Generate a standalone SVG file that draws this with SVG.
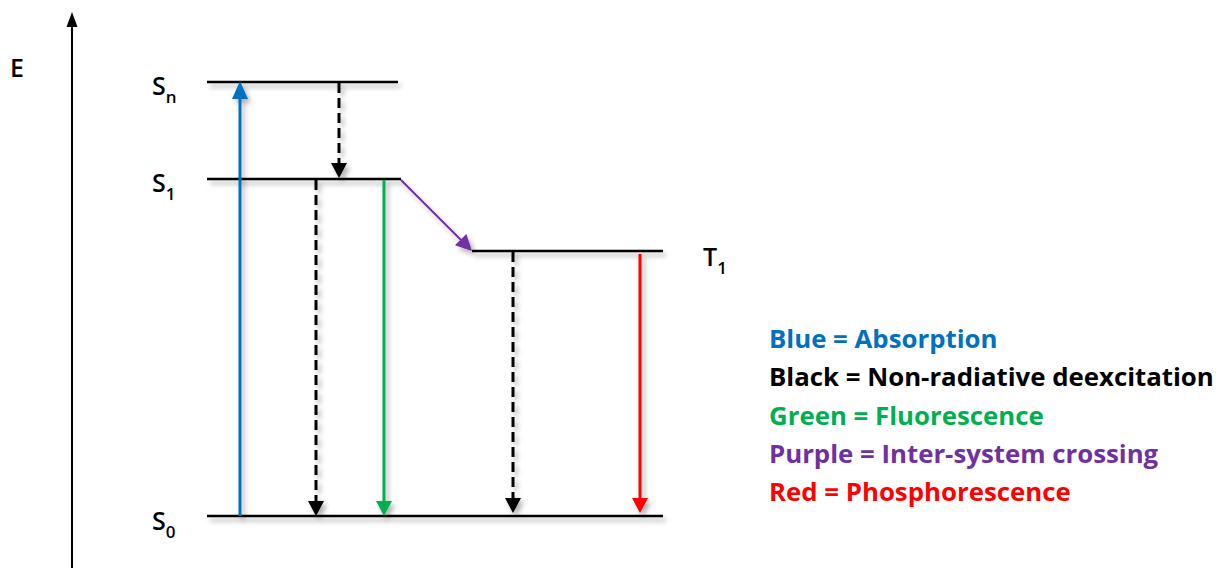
<svg xmlns="http://www.w3.org/2000/svg" width="1225" height="568" viewBox="0 0 1225 568">
<style>
text{font-family:"Open Sans","Noto Sans",sans-serif;font-weight:700}
.lvl{stroke:#000;stroke-width:2.5;fill:none;filter:url(#sh)}
.lbl{font-size:25px;fill:#000;font-weight:600}
.sub{font-size:17px}
.leg{font-size:25.8px}
.ar{filter:url(#sh)}
.ar line{stroke-width:3;fill:none}
.dash{stroke-dasharray:10,5}
</style>
<defs>
<filter id="sh" filterUnits="userSpaceOnUse" x="0" y="0" width="1225" height="568">
<feDropShadow dx="3" dy="4" stdDeviation="2.5" flood-color="#000" flood-opacity="0.3"/>
</filter>
</defs>
<rect width="1225" height="568" fill="#fff"/>

<g id="axis">
<line x1="72" y1="568" x2="72" y2="22" stroke="#000" stroke-width="2"/>
<polygon points="72,12 66.5,27 77.5,27" fill="#000"/>
<text x="10" y="77" class="lbl">E</text>
</g>

<g id="level-Sn">
<line class="lvl" x1="207" y1="82" x2="398" y2="82"/>
<text x="152" y="95" class="lbl">S<tspan class="sub" dy="8">n</tspan></text>
</g>
<g id="level-S1">
<line class="lvl" x1="207" y1="179" x2="401" y2="179"/>
<text x="152" y="192" class="lbl">S<tspan class="sub" dy="8">1</tspan></text>
</g>
<g id="level-T1">
<line class="lvl" x1="472" y1="251" x2="663" y2="251"/>
<text x="703" y="266" class="lbl">T<tspan class="sub" dy="8">1</tspan></text>
</g>
<g id="level-S0">
<line class="lvl" x1="207" y1="516" x2="663" y2="516"/>
<text x="152" y="530" class="lbl">S<tspan class="sub" dy="8">0</tspan></text>
</g>

<g id="connectors">
<g class="ar" id="absorption">
<line x1="240" y1="516" x2="240" y2="98" stroke="#0070C0"/>
<polygon points="240,81 232,99 248,99" fill="#0070C0"/>
</g>
<g class="ar" id="nr-Sn-S1">
<line class="dash" x1="339" y1="83" x2="339" y2="164" stroke="#000"/>
<polygon points="339,178 331,163 347,163" fill="#000"/>
</g>
<g class="ar" id="nr-S1-S0">
<line class="dash" x1="316" y1="180" x2="316" y2="502" stroke="#000"/>
<polygon points="316,516 308,501 324,501" fill="#000"/>
</g>
<g class="ar" id="fluorescence">
<line x1="384" y1="180" x2="384" y2="502" stroke="#00B050"/>
<polygon points="384,516 376,501 392,501" fill="#00B050"/>
</g>
<g class="ar" id="isc">
<line x1="401" y1="180" x2="462" y2="241" stroke="#7030A0" style="stroke-width:2"/>
<polygon points="472,251 455,245.3 466.4,234" fill="#7030A0"/>
</g>
<g class="ar" id="nr-T1-S0">
<line class="dash" x1="513" y1="252" x2="513" y2="499" stroke="#000"/>
<polygon points="513,513 505,498 521,498" fill="#000"/>
</g>
<g class="ar" id="phosphorescence">
<line x1="640" y1="254" x2="640" y2="499" stroke="#FF0000"/>
<polygon points="640,513 632,498 648,498" fill="#FF0000"/>
</g>
</g>

<g id="legend">
<text x="769" y="348" class="leg" fill="#0070C0">Blue = Absorption</text>
<text x="769" y="386" class="leg" fill="#000">Black = Non-radiative deexcitation</text>
<text x="769" y="425" class="leg" fill="#00B050">Green = Fluorescence</text>
<text x="769" y="463" class="leg" fill="#7030A0">Purple = Inter-system crossing</text>
<text x="769" y="501" class="leg" fill="#FF0000">Red = Phosphorescence</text>
</g>
</svg>
